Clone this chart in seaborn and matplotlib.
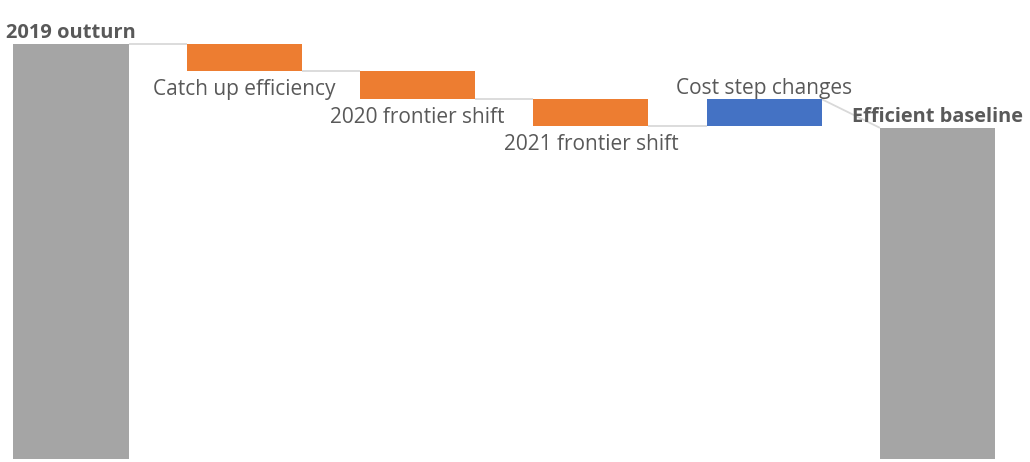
import matplotlib
matplotlib.use("Agg")
import matplotlib.pyplot as plt
import pandas as pd
import seaborn as sns

# Waterfall steps from the 2019 outturn to the efficient baseline
steps = ["2019 outturn", "Catch up efficiency", "2020 frontier shift",
         "2021 frontier shift", "Cost step changes", "Efficient baseline"]
amounts = [100.0, -6.6, -6.7, -6.6, 6.5, 79.7]
kinds = ["total", "delta", "delta", "delta", "delta", "total"]
bar_colors = ["#A5A5A5", "#ED7D31", "#ED7D31", "#ED7D31", "#4472C4", "#A5A5A5"]

# Floating bar extents and running level after each step
bottoms, tops, levels = [], [], []
level = 0.0
for amt, kind in zip(amounts, kinds):
    if kind == "total":
        lo, hi, level = 0.0, amt, amt
    else:
        new = level + amt
        lo, hi, level = min(level, new), max(level, new), new
    bottoms.append(lo)
    tops.append(hi)
    levels.append(level)

df = pd.DataFrame({"step": steps, "height": [t - b for t, b in zip(tops, bottoms)]})

sns.set_theme(style="white")
plt.rcParams["font.family"] = ["Open Sans", "DejaVu Sans"]

fig = plt.figure(figsize=(10.30, 4.62), dpi=100)
ax = fig.add_axes([0, 0, 1, 1])

BAR_W = 0.664
sns.barplot(data=df, x="step", y="height", hue="step", palette=bar_colors,
            dodge=False, width=BAR_W, saturation=1, legend=False, ax=ax,
            zorder=3)

# lift each bar onto its running base
for patch, b in zip(ax.patches, bottoms):
    patch.set_y(b)
    patch.set_edgecolor("none")

# connector lines between neighbouring bars
conn = dict(color="#D9D9D9", lw=1.3, zorder=1, solid_capstyle="butt")
for i in range(len(steps) - 1):
    x0 = i + BAR_W / 2
    x1 = i + 1 - BAR_W / 2
    y0 = levels[i]
    y1 = tops[i + 1] if kinds[i + 1] == "total" else y0
    ax.plot([x0, x1], [y0, y1], **conn)

# step labels: above rising/total bars, below falling bars
text_color = "#595959"
for i, (name, amt, kind) in enumerate(zip(steps, amounts, kinds)):
    bold = kind == "total"
    style = dict(ha="center", va="baseline", color=text_color,
                 fontsize=14.4 if bold else 15,
                 fontweight="bold" if bold else "normal")
    if bold or amt > 0:
        ax.annotate(name, (i, tops[i]), xytext=(0, 4),
                    textcoords="offset points", **style)
    else:
        ax.annotate(name, (i, bottoms[i]), xytext=(0, -17.3),
                    textcoords="offset points", **style)

ax.set_xlim(-0.4097, 5.534)
ax.set_ylim(-0.72, 110.47)
ax.axis("off")

fig.savefig("out.png", dpi=100, facecolor="white")
